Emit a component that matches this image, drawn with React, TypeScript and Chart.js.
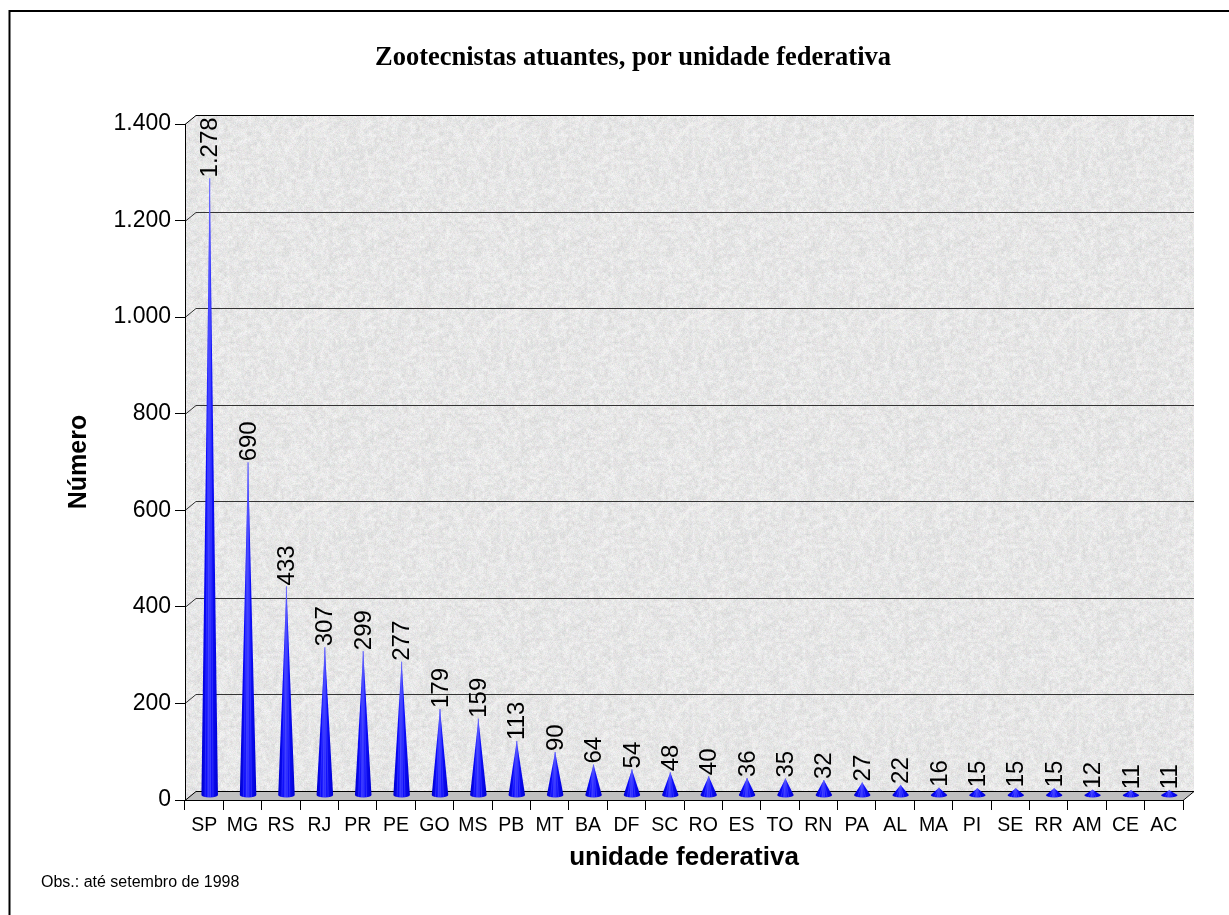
import React, { useEffect, useRef } from "react";
import { Chart, registerables } from "chart.js";

Chart.register(...registerables);

const categories = ["SP","MG","RS","RJ","PR","PE","GO","MS","PB","MT","BA","DF","SC","RO","ES","TO","RN","PA","AL","MA","PI","SE","RR","AM","CE","AC"];
const values = [1278,690,433,307,299,277,179,159,113,90,64,54,48,40,36,35,32,27,22,16,15,15,15,12,11,11];
const yTickValues = [0,200,400,600,800,1000,1200,1400];
const titleText = "Zootecnistas atuantes, por unidade federativa";
const xTitle = "unidade federativa";
const yTitle = "Número";
const footnote = "Obs.: até setembro de 1998";

const W = 1229;
const H = 915;
const DX = 11;
const DY = -9;
const SANS = 'Arial, "Liberation Sans", sans-serif';
const SERIF = '"Times New Roman", "Liberation Serif", serif';

function fmt(v: number): string {
  if (v >= 1000) return Math.floor(v / 1000) + "." + String(v % 1000).padStart(3, "0");
  return String(v);
}

function hash(x: number, y: number, s: number): number {
  let h = Math.imul(x, 374761393) + Math.imul(y, 668265263) + Math.imul(s, 1442695041);
  h = Math.imul(h ^ (h >>> 13), 1274126177);
  h = h ^ (h >>> 16);
  return (h >>> 0) / 4294967295;
}

function makeTexture(): HTMLCanvasElement {
  const size = 192;
  const c = document.createElement("canvas");
  c.width = size;
  c.height = size;
  const g = c.getContext("2d")!;
  const img = g.createImageData(size, size);
  const cell = 3;
  const n = size / cell;
  const coarse = (x: number, y: number) => {
    const gx = Math.floor(x / cell), gy = Math.floor(y / cell);
    const fx = (x % cell) / cell, fy = (y % cell) / cell;
    const a = hash(gx % n, gy % n, 7), b = hash((gx + 1) % n, gy % n, 7);
    const c2 = hash(gx % n, (gy + 1) % n, 7), d = hash((gx + 1) % n, (gy + 1) % n, 7);
    const top = a + (b - a) * fx, bot = c2 + (d - c2) * fx;
    return top + (bot - top) * fy;
  };
  for (let y = 0; y < size; y++) {
    for (let x = 0; x < size; x++) {
      const n1 = coarse(x, y);
      const n2 = hash(x, y, 3);
      let v = 231 + (n1 - 0.5) * 18 + (n2 - 0.5) * 14;
      if (n2 > 0.95) v -= 16;
      const i = (y * size + x) * 4;
      img.data[i] = Math.max(0, Math.min(255, v + (hash(x, y, 11) - 0.5) * 8));
      img.data[i + 1] = Math.max(0, Math.min(255, v + (hash(x, y, 13) - 0.5) * 8));
      img.data[i + 2] = Math.max(0, Math.min(255, v + (hash(x, y, 17) - 0.5) * 8));
      img.data[i + 3] = 255;
    }
  }
  g.putImageData(img, 0, 0);
  return c;
}

const decorPlugin = {
  id: "decor",
  beforeDraw(chart: any) {
    const ctx = chart.ctx as CanvasRenderingContext2D;
    const area = chart.chartArea;
    const ys = chart.scales.y;
    ctx.save();
    ctx.fillStyle = "#ffffff";
    ctx.fillRect(0, 0, W, H);
    ctx.strokeStyle = "#000";
    ctx.lineWidth = 2;
    ctx.beginPath();
    ctx.moveTo(9.5, H + 5);
    ctx.lineTo(9.5, 11);
    ctx.lineTo(W + 5, 11);
    ctx.stroke();

    const L = area.left, R = area.right, T = area.top, B = area.bottom;
    const pattern = ctx.createPattern(makeTexture(), "repeat")!;
    ctx.fillStyle = pattern;
    ctx.beginPath();
    ctx.moveTo(L, T);
    ctx.lineTo(L + DX, T + DY);
    ctx.lineTo(R + DX, T + DY);
    ctx.lineTo(R + DX, B + DY);
    ctx.lineTo(L, B);
    ctx.closePath();
    ctx.fill();

    ctx.fillStyle = "#c0c0c0";
    ctx.beginPath();
    ctx.moveTo(L, B);
    ctx.lineTo(L + DX, B + DY);
    ctx.lineTo(R + DX, B + DY);
    ctx.lineTo(R, B);
    ctx.closePath();
    ctx.fill();

    ctx.lineWidth = 1;
    for (const v of yTickValues) {
      const y = Math.round(ys.getPixelForValue(v)) + 0.5;
      ctx.strokeStyle = v === 0 || v === 1400 ? "#000" : "#333";
      ctx.beginPath();
      ctx.moveTo(L, y);
      ctx.lineTo(L + DX, y + DY);
      ctx.lineTo(R + DX, y + DY);
      ctx.stroke();
    }
    ctx.strokeStyle = "#000";
    ctx.beginPath();
    ctx.moveTo(R + DX, B + DY + 0.5);
    ctx.lineTo(R, B + 0.5);
    ctx.stroke();
    ctx.restore();
  },
  afterDatasetsDraw(chart: any) {
    const ctx = chart.ctx as CanvasRenderingContext2D;
    const meta = chart.getDatasetMeta(0);
    ctx.save();
    meta.data.forEach((bar: any, i: number) => {
      const cx = bar.x + DX / 2;
      const tipY = bar.y + DY / 2;
      const baseY = bar.base + DY / 2;
      const r = bar.width / 2;
      const ry = 2.5;
      const grad = ctx.createLinearGradient(cx - r, 0, cx + r, 0);
      grad.addColorStop(0, "#0000c8");
      grad.addColorStop(0.3, "#0a0aff");
      grad.addColorStop(0.45, "#3535ff");
      grad.addColorStop(0.6, "#1010ff");
      grad.addColorStop(1, "#0000d0");
      ctx.fillStyle = grad;
      ctx.beginPath();
      ctx.moveTo(cx - r, baseY);
      ctx.lineTo(cx, tipY);
      ctx.lineTo(cx + r, baseY);
      ctx.ellipse(cx, baseY, r, ry, 0, 0, Math.PI, false);
      ctx.closePath();
      ctx.fill();
      ctx.strokeStyle = "rgba(100,100,255,0.5)";
      ctx.lineWidth = 0.8;
      for (const f of [-0.55, -0.2, 0.1, 0.4]) {
        ctx.beginPath();
        ctx.moveTo(cx, tipY);
        ctx.lineTo(cx + f * r, baseY + ry * Math.sqrt(1 - f * f));
        ctx.stroke();
      }
      ctx.save();
      ctx.translate(cx, tipY - 1);
      ctx.rotate(-Math.PI / 2);
      ctx.fillStyle = "#000";
      ctx.font = "24px " + SANS;
      ctx.textAlign = "left";
      ctx.textBaseline = "middle";
      ctx.fillText(fmt(values[i]), 0, 1);
      ctx.restore();
    });
    ctx.restore();
  },
  afterDraw(chart: any) {
    const ctx = chart.ctx as CanvasRenderingContext2D;
    ctx.save();
    ctx.fillStyle = "#000";
    ctx.font = "bold 26.5px " + SERIF;
    ctx.textAlign = "center";
    ctx.textBaseline = "middle";
    ctx.fillText(titleText, 633, 58);
    ctx.font = "16px " + SANS;
    ctx.textAlign = "left";
    ctx.textBaseline = "alphabetic";
    ctx.fillText(footnote, 41, 887);
    ctx.restore();
  },
};

export default function App() {
  const ref = useRef<HTMLCanvasElement | null>(null);
  useEffect(() => {
    if (!ref.current) return;
    const chart = new Chart(ref.current, {
      type: "bar",
      data: {
        labels: categories,
        datasets: [
          {
            data: values,
            backgroundColor: "rgba(0,0,0,0)",
            borderWidth: 0,
            barPercentage: 0.43,
            categoryPercentage: 1,
          },
        ],
      },
      options: {
        animation: false,
        responsive: false,
        maintainAspectRatio: false,
        devicePixelRatio: 1,
        layout: { padding: { top: 124, right: 46, left: 0, bottom: 0 } },
        plugins: {
          legend: { display: false },
          tooltip: { enabled: false },
          title: { display: false },
        },
        scales: {
          x: {
            afterFit: (s: any) => { s.height = 115; },
            grid: { drawOnChartArea: false, drawTicks: true, tickLength: 10, color: "#000", offset: true },
            border: { display: true, color: "#000", width: 1 },
            ticks: { color: "#000", font: { family: SANS, size: 19.5 }, padding: 4, maxRotation: 0, autoSkip: false },
            title: { display: true, text: xTitle, color: "#000", font: { family: SANS, size: 26, weight: "bold" }, padding: { top: 0, bottom: 42 } },
          },
          y: {
            min: 0,
            max: 1400,
            afterFit: (s: any) => { s.width = 185; },
            grid: { drawOnChartArea: false, drawTicks: true, tickLength: 10, color: "#000" },
            border: { display: true, color: "#000", width: 1 },
            ticks: { stepSize: 200, color: "#000", font: { family: SANS, size: 23 }, padding: 4, callback: (v: any) => fmt(Number(v)) },
            title: { display: true, text: yTitle, color: "#000", font: { family: SANS, size: 25, weight: "bold" }, padding: { top: 64, bottom: 0 } },
          },
        },
      },
      plugins: [decorPlugin],
    } as any);
    return () => chart.destroy();
  }, []);
  return (
    <div style={{ position: "absolute", left: 0, top: 0, width: W, height: H }}>
      <canvas ref={ref} width={W} height={H} style={{ width: W, height: H, display: "block" }} />
    </div>
  );
}
